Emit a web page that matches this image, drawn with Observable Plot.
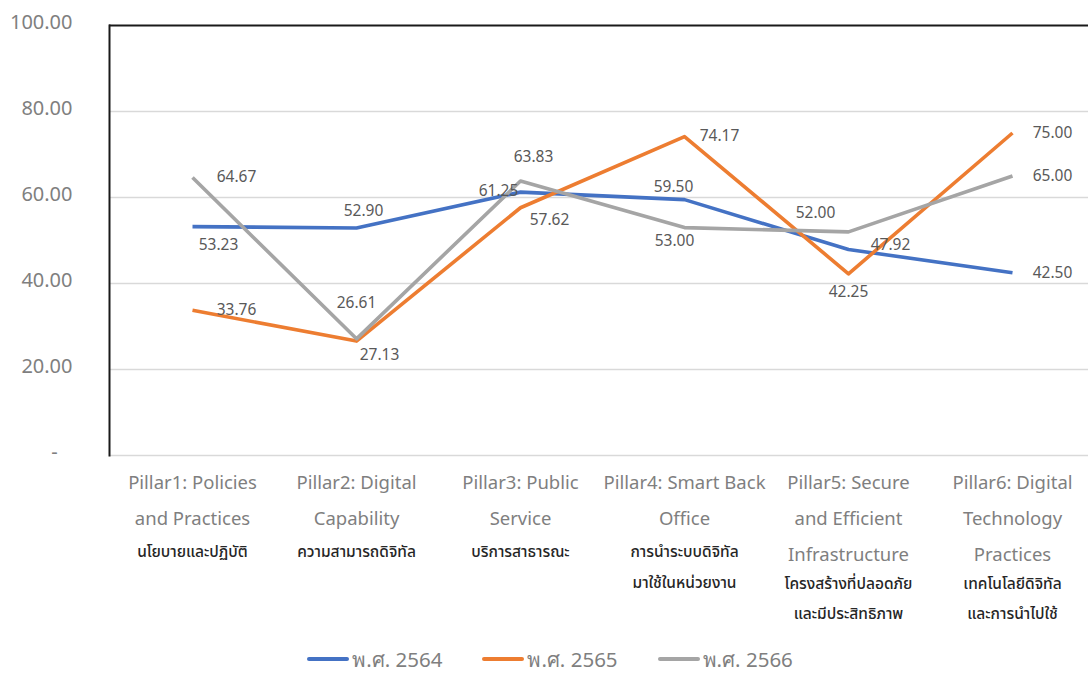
<!DOCTYPE html>
<html>
<head>
<meta charset="utf-8">
<script src="https://cdn.jsdelivr.net/npm/d3@7"></script>
<script src="https://cdn.jsdelivr.net/npm/@observablehq/plot@0.6"></script>
<style>
  html, body { margin: 0; padding: 0; background: #fff; }
  #chart { width: 1088px; }
  #legend { display: flex; justify-content: center; align-items: center; height: 38px;
    padding-left: 12px; font-family: "Noto Sans", sans-serif; font-size: 20.5px; color: #7f7f7f; }
  .item { display: flex; align-items: center; margin: 0 20px; }
  .sw { width: 42px; height: 4px; margin-right: 3px; border-radius: 2px; }
</style>
</head>
<body>
<div id="chart"></div>
<div id="legend"></div>
<script>
// ---- data ----
const pillarsEn = [
  "Pillar1: Policies\nand Practices",
  "Pillar2: Digital\nCapability",
  "Pillar3: Public\nService",
  "Pillar4: Smart Back\nOffice",
  "Pillar5: Secure\nand Efficient\nInfrastructure",
  "Pillar6: Digital\nTechnology\nPractices"
];
const pillarsTh = [
  "นโยบายและปฏิบัติ",
  "ความสามารถดิจิทัล",
  "บริการสาธารณะ",
  "การนำระบบดิจิทัล\nมาใช้ในหน่วยงาน",
  "โครงสร้างที่ปลอดภัย\nและมีประสิทธิภาพ",
  "เทคโนโลยีดิจิทัล\nและการนำไปใช้"
];
const seriesNames = ["พ.ศ. 2564", "พ.ศ. 2565", "พ.ศ. 2566"];
const values2564 = [53.23, 52.90, 61.25, 59.50, 47.92, 42.50];
const values2565 = [33.76, 26.61, 57.62, 74.17, 42.25, 75.00];
const values2566 = [64.67, 27.13, 63.83, 53.00, 52.00, 65.00];
const yTicks = [0, 20, 40, 60, 80, 100];

// ---- layout config (label offsets from each point, per series) ----
const seriesColors = ["#4472c4", "#ed7d31", "#a5a5a5"];
const labelOffsets = [
  [[26, 18], [7, -17], [-22, -1], [-11, -13], [42, -4], [40, 0]],
  [[44, 0], [0, -38], [29, 12], [35, -1], [0, 18], [40, 0]],
  [[44, 0], [23, 16], [13, -24], [-10, 13], [-33, -19], [40, 0]]
];

const allValues = [values2564, values2565, values2566];
const rows = [];
allValues.forEach((vals, s) => vals.forEach((v, i) => rows.push({
  series: seriesNames[s], pillar: pillarsEn[i], value: v,
  dx: labelOffsets[s][i][0], dy: labelOffsets[s][i][1]
})));

const thaiLines = Object.fromEntries(pillarsEn.map((p, i) => [p, pillarsTh[i]]));
const eng2 = pillarsEn.filter(p => p.split("\n").length === 2);
const eng3 = pillarsEn.filter(p => p.split("\n").length === 3);

const W = 1088, H = 640;
const font = "'Noto Sans', 'Noto Sans Thai', Tahoma, sans-serif";

const labelMarks = rows.map(r => Plot.text([r], {
  x: "pillar", y: "value", text: d => d.value.toFixed(2),
  dx: r.dx, dy: r.dy, fill: "#595959", fontSize: 15.5
}));

const chart = Plot.plot({
  width: W, height: H,
  marginLeft: 109, marginRight: 0, marginTop: 25, marginBottom: H - 455,
  style: { fontFamily: font, background: "#fff" },
  x: { type: "point", domain: pillarsEn, range: [108, 1096], padding: 0.5, label: null },
  y: { domain: [0, 100], label: null },
  color: { domain: seriesNames, range: seriesColors },
  marks: [
    Plot.gridY([20, 40, 60, 80], { stroke: "#d9d9d9", strokeOpacity: 1, strokeWidth: 1.5 }),
    Plot.ruleY([0], { stroke: "#d9d9d9", strokeWidth: 1.5 }),
    Plot.ruleY([100], { stroke: "#1a1a1a", strokeWidth: 2 }),
    Plot.frame({ anchor: "left", stroke: "#1a1a1a", strokeWidth: 2 }),
    Plot.axisY(yTicks, {
      tickSize: 0, tickPadding: 37, fontSize: 20, fill: "#7f7f7f", dy: -3,
      tickFormat: d => d === 0 ? "-\u2007\u2009" : d.toFixed(2)
    }),
    Plot.axisX({
      tickSize: 0, tickPadding: 8, fontSize: 18.5, fill: "#7f7f7f",
      lineAnchor: "top", lineHeight: 36 / 18.5, tickFormat: d => d
    }),
    Plot.axisX(eng2, {
      tickSize: 0, tickPadding: 79, fontSize: 15.5, fill: "#262626", fontWeight: 500,
      lineAnchor: "top", lineHeight: 31 / 15.5, tickFormat: d => thaiLines[d]
    }),
    Plot.axisX(eng3, {
      tickSize: 0, tickPadding: 112, fontSize: 15.5, fill: "#262626", fontWeight: 500,
      lineAnchor: "top", lineHeight: 30 / 15.5, tickFormat: d => thaiLines[d]
    }),
    Plot.line(rows, {
      x: "pillar", y: "value", z: "series", stroke: "series",
      strokeWidth: 3.6, strokeLinejoin: "round", strokeLinecap: "butt"
    }),
    ...labelMarks
  ]
});
document.getElementById("chart").appendChild(chart);

const legend = document.getElementById("legend");
seriesNames.forEach((name, i) => {
  const item = document.createElement("div");
  item.className = "item";
  const sw = document.createElement("div");
  sw.className = "sw";
  sw.style.background = seriesColors[i];
  const t = document.createElement("span");
  t.textContent = name;
  item.appendChild(sw); item.appendChild(t);
  legend.appendChild(item);
});
</script>
</body>
</html>
